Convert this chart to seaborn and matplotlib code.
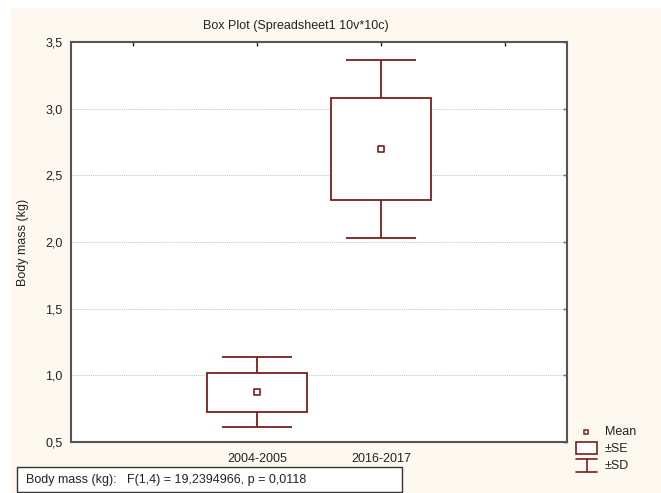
import matplotlib
matplotlib.use("Agg")
import matplotlib.pyplot as plt
from matplotlib.patches import Rectangle
from matplotlib.ticker import FuncFormatter
import pandas as pd
import seaborn as sns

# Data (mean, +/-SE box, +/-SD whiskers)
groups = ["2004-2005", "2016-2017"]
means = [0.873, 2.697]
se = [0.147, 0.385]
sd = [0.262, 0.669]

stat_text = "Body mass (kg):   F(1,4) = 19,2394966, p = 0,0118"

sns.set_theme(style="white")
plt.rcParams['font.family'] = ['Liberation Sans', 'DejaVu Sans']

maroon = "#7a1e1e"
cream = "#fdf9f0"

df = pd.DataFrame({"group": groups, "mean": means, "se": se, "sd": sd})
df["x"] = range(len(df))

fig = plt.figure(figsize=(6.61, 4.93), dpi=100, facecolor="white")
# cream panel behind everything (white margin on the top/left edge)
fig.patches.append(Rectangle((10 / 661, 0), 1, 1 - 8 / 493, transform=fig.transFigure,
                             facecolor=cream, edgecolor="none", zorder=-10))

ax = fig.add_axes([71 / 661, 51 / 493, 496 / 661, 400 / 493])
ax.set_facecolor("white")

# SD whiskers
ax.vlines(df["x"], df["mean"] - df["sd"], df["mean"] + df["sd"], color=maroon, lw=1.3, zorder=2)
ax.hlines(df["mean"] + df["sd"], df["x"] - 0.28, df["x"] + 0.28, color=maroon, lw=1.3, zorder=2)
ax.hlines(df["mean"] - df["sd"], df["x"] - 0.28, df["x"] + 0.28, color=maroon, lw=1.3, zorder=2)
# SE boxes
ax.bar(df["x"], 2 * df["se"], bottom=df["mean"] - df["se"], width=0.8,
       facecolor="white", edgecolor=maroon, linewidth=1.3, zorder=3)
# means
sns.scatterplot(data=df, x="x", y="mean", marker="s", s=22, facecolor="white",
                edgecolor=maroon, linewidth=1.2, ax=ax, zorder=4, legend=False)

ax.set_xlim(-1.5, 2.5)
ax.set_ylim(0.5, 3.5)
ax.set_xticks([-1, 0, 1, 2])
ax.set_xticklabels([""] + groups + [""])
ax.set_yticks([0.5, 1.0, 1.5, 2.0, 2.5, 3.0, 3.5])
ax.yaxis.set_major_formatter(FuncFormatter(lambda v, p: f"{v:.1f}".replace(".", ",")))
ax.tick_params(direction="in", length=3, width=1, color="#222222", top=True, right=True,
               labelsize=9, labelcolor="#222222")
ax.tick_params(axis="x", pad=8)
ax.tick_params(axis="y", pad=6)
for yv in [1.0, 1.5, 2.0, 2.5, 3.0]:
    ax.axhline(yv, color="#c4c4c4", lw=0.7, ls=(0, (1, 1)), zorder=1)
for sp in ax.spines.values():
    sp.set_color("#555555")
    sp.set_linewidth(1.5)
ax.set_xlabel("")
ax.set_ylabel("Body mass (kg)", fontsize=9, color="#222222", labelpad=12)

fig.text(296 / 661, 1 - 26 / 493, "Box Plot (Spreadsheet1 10v*10c)", ha="center", va="center",
         fontsize=9, color="#222222")

# statistic box at the bottom
fig.patches.append(Rectangle((17 / 661, 1 - 492 / 493), 385 / 661, 25 / 493, transform=fig.transFigure,
                             facecolor="white", edgecolor="#333333", linewidth=1.0))
fig.text(26 / 661, 1 - 480 / 493, stat_text, ha="left", va="center", fontsize=9, color="#222222")

# legend glyphs
lg = fig.add_axes([0, 0, 1, 1], facecolor="none")
lg.set_xlim(0, 661)
lg.set_ylim(493, 0)
lg.axis("off")
lg.plot([586], [432], marker="s", ms=3.5, mfc="white", mec=maroon, mew=1.1, ls="none")
lg.add_patch(Rectangle((576, 442), 21, 12, facecolor="white", edgecolor=maroon, lw=1.2))
lg.plot([576, 597], [459, 459], color=maroon, lw=1.2)
lg.plot([586.5, 586.5], [459, 472], color=maroon, lw=1.2)
lg.plot([576, 597], [472, 472], color=maroon, lw=1.2)
for yy, lab in [(432, "Mean"), (449, "±SE"), (466, "±SD")]:
    lg.text(605, yy, lab, ha="left", va="center", fontsize=9, color="#222222")

fig.savefig("out.png", dpi=100, facecolor=fig.get_facecolor())
